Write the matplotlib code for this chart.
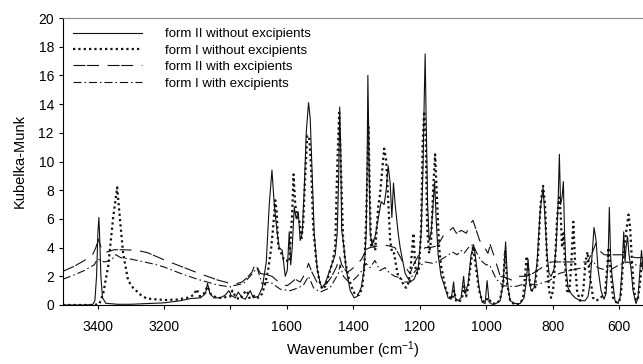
import numpy as np
import matplotlib
matplotlib.use("Agg")
import matplotlib.pyplot as plt

plt.rcParams['font.family'] = ['Liberation Sans', 'DejaVu Sans']
plt.rcParams['mathtext.fontset'] = 'custom'
plt.rcParams['mathtext.rm'] = 'Liberation Sans'
plt.rcParams['mathtext.it'] = 'Liberation Sans'
plt.rcParams['mathtext.bf'] = 'Liberation Sans'

# ---------------- data (wavenumber cm-1, Kubelka-Munk) ----------------
formII_wn = [3504, 3450, 3415, 3408, 3403, 3399, 3396, 3394, 3390, 3385, 3375, 3340, 3300, 3250,
             3200, 3150, 3120, 3090, 3075, 3069, 3062, 3050, 3030, 3015, 3005, 3000,
             1770.6, 1755.5, 1746.5, 1734.5, 1725.4, 1710.4, 1701.4, 1686.3, 1674.3, 1662.2,
             1653.2, 1645.1, 1638.2, 1629.2, 1623.2, 1614.1, 1605.1, 1599.1, 1593.1, 1588.6,
             1584.1, 1578.0, 1572.0, 1566.0, 1560.0, 1554.0, 1548.0, 1541.9, 1535.0, 1529.9,
             1523.9, 1517.9, 1508.9, 1499.8, 1493.8, 1484.8, 1469.8, 1454.7, 1448.7, 1444.2,
             1441.2, 1438.2, 1435.2, 1430.7, 1421.6, 1409.6, 1397.6, 1388.5, 1376.5, 1367.5,
             1361.5, 1358.5, 1356.4, 1354.0, 1349.5, 1343.5, 1334.4, 1325.4, 1316.4, 1307.4,
             1301.3, 1295.3, 1289.3, 1284.2, 1279.3, 1274.2, 1265.2, 1259.2, 1244.2, 1229.1,
             1217.1, 1205.1, 1196.0, 1190.0, 1187.0, 1184.0, 1181.0, 1176.5, 1172.0, 1166.0,
             1160.0, 1155.4, 1150.9, 1144.9, 1135.9, 1123.9, 1114.9, 1105.8, 1098.3, 1093.8,
             1084.8, 1075.8, 1068.2, 1063.7, 1054.7, 1045.7, 1038.1, 1030.6, 1021.6, 1012.6,
             1003.6, 997.5, 991.5, 982.5, 970.4, 958.4, 949.4, 941.8, 935.8, 928.3,
             913.3, 898.2, 886.2, 880.2, 874.2, 869.7, 865.2, 856.1, 847.1, 838.1,
             829.1, 823.1, 817.1, 811.1, 805.0, 796.0, 790.0, 784.0, 780.0, 776.4,
             771.9, 768.0, 764.4, 759.9, 753.9, 744.9, 732.8, 717.8, 702.7, 693.7,
             687.7, 681.7, 675.7, 669.6, 663.6, 654.6, 645.6, 639.6, 633.6, 629.6,
             626.0, 621.5, 612.5, 603.4, 597.4, 591.4, 586.3, 582.4, 579.4, 574.9,
             570.4, 564.3, 558.3, 549.3, 543.3, 537.3, 532.8, 528.3]
formII_km = [0.0, 0.0, 0.02, 0.3, 2.0, 5.0, 6.1, 5.0, 2.0, 0.5, 0.12, 0.05, 0.05, 0.1,
             0.15, 0.3, 0.45, 0.5, 0.8, 1.5, 0.8, 0.5, 0.5, 0.7, 1.0, 0.8,
             0.7, 0.5, 0.9, 0.5, 0.4, 1.0, 0.5, 0.6, 1.2, 3.0,
             7.0, 9.4, 7.0, 5.0, 4.0, 3.8, 2.0, 2.4, 5.1, 2.8,
             4.0, 6.8, 6.0, 6.5, 4.5, 5.0, 8.0, 12.0, 14.1, 13.0,
             9.0, 5.0, 2.5, 1.5, 1.2, 1.5, 2.5, 3.5, 5.0, 9.0,
             13.8, 11.0, 5.2, 4.5, 2.5, 1.0, 0.5, 0.6, 1.2, 2.5,
             5.0, 10.0, 16.0, 12.0, 5.0, 4.2, 4.8, 6.0, 7.2, 7.0,
             8.0, 9.7, 8.5, 6.1, 8.5, 7.0, 5.0, 4.0, 2.2, 1.6,
             1.8, 2.5, 5.0, 10.0, 14.0, 17.5, 13.0, 7.0, 4.5, 5.0,
             7.0, 8.6, 6.0, 3.5, 2.0, 1.2, 0.5, 0.4, 1.6, 0.5,
             0.3, 0.5, 2.0, 0.8, 1.5, 3.5, 4.2, 3.0, 1.2, 0.2,
             0.1, 1.7, 0.2, 0.05, 0.1, 0.3, 1.5, 4.4, 1.5, 0.3,
             0.1, 0.1, 0.5, 1.5, 3.2, 1.5, 1.0, 1.2, 3.0, 6.5,
             8.2, 6.0, 3.5, 2.2, 2.0, 2.5, 4.0, 7.0, 10.5, 7.0,
             7.5, 8.6, 5.0, 2.5, 1.2, 0.8, 0.5, 0.3, 0.3, 0.6,
             1.5, 3.5, 5.4, 4.5, 2.5, 1.0, 0.4, 0.8, 3.0, 6.8,
             3.5, 2.0, 0.3, 0.1, 0.5, 2.5, 5.1, 3.0, 4.0, 4.8,
             3.5, 2.5, 1.0, 0.1, 0.5, 2.5, 3.8, 2.5]

formI_wn = [3504, 3420, 3395, 3383, 3368, 3353, 3341, 3333, 3323, 3308, 3293, 3270, 3253,
            3220, 3192, 3160, 3130, 3110, 3102, 3092, 3080, 3069, 3058, 3040, 3020, 3010, 3000,
            1764.5, 1752.5, 1740.5, 1731.4, 1720.3, 1713.4, 1704.4, 1695.4, 1686.3, 1674.3,
            1665.3, 1656.2, 1647.2, 1641.2, 1635.2, 1630.7, 1626.2, 1617.1, 1608.1, 1602.1,
            1593.1, 1584.1, 1580.1, 1575.0, 1569.0, 1563.0, 1557.0, 1551.0, 1545.0, 1538.9,
            1532.9, 1526.9, 1520.9, 1511.9, 1502.8, 1493.8, 1484.8, 1472.8, 1463.7, 1454.7,
            1448.7, 1442.7, 1436.7, 1430.7, 1424.7, 1415.6, 1406.6, 1394.6, 1382.5, 1373.5,
            1367.5, 1361.5, 1354.5, 1349.5, 1346.5, 1340.5, 1334.4, 1325.4, 1319.4, 1307.4,
            1301.3, 1295.3, 1289.3, 1283.3, 1277.2, 1271.2, 1265.2, 1256.2, 1247.2, 1241.1,
            1235.1, 1229.1, 1219.2, 1214.1, 1208.1, 1202.1, 1196.0, 1191.5, 1187.0, 1182.5,
            1178.0, 1172.0, 1166.0, 1160.0, 1154.0, 1147.9, 1141.9, 1135.9, 1126.9, 1120.9,
            1111.9, 1102.8, 1096.8, 1090.8, 1081.8, 1072.8, 1066.7, 1060.7, 1054.7, 1048.7,
            1039.7, 1030.6, 1021.6, 1012.6, 1003.6, 994.5, 982.5, 967.5, 958.4, 949.4,
            943.4, 937.3, 928.3, 913.3, 898.2, 889.2, 883.2, 878.7, 874.2, 868.2,
            862.2, 853.1, 844.1, 836.6, 829.1, 823.1, 817.1, 811.1, 805.0, 799.0,
            793.0, 787.0, 781.0, 776.4, 771.9, 767.4, 762.9, 756.9, 750.9, 744.9,
            738.0, 732.8, 726.8, 717.8, 708.8, 701.3, 695.3, 687.7, 678.7, 669.6,
            660.6, 651.6, 642.6, 636.6, 632.1, 626.0, 618.5, 609.5, 600.4, 594.4,
            588.4, 582.4, 576.4, 571.9, 567.4, 561.4, 555.4, 549.3, 543.3, 537.3,
            531.3, 528.3]
formI_km = [0.0, 0.0, 0.05, 0.8, 2.7, 6.1, 8.2, 6.1, 3.6, 1.7, 1.2, 0.7, 0.46,
            0.38, 0.35, 0.38, 0.5, 0.7, 1.1, 0.6, 0.8, 1.3, 0.7, 0.5, 0.5, 0.6, 0.6,
            1.0, 0.5, 0.4, 0.8, 1.0, 0.5, 0.5, 0.7, 0.5, 0.8,
            1.5, 2.5, 4.0, 5.5, 7.3, 6.5, 4.05, 3.6, 3.1, 3.1,
            3.0, 6.4, 9.1, 7.0, 6.1, 6.0, 4.5, 5.7, 9.0, 11.8,
            11.7, 9.4, 5.4, 3.1, 1.7, 1.1, 1.3, 2.2, 2.9, 4.0,
            9.6, 13.4, 9.0, 4.5, 3.1, 2.0, 1.3, 0.7, 0.7, 1.2,
            2.5, 6.0, 12.4, 6.6, 4.0, 4.5, 3.8, 6.8, 7.8, 10.9,
            10.1, 7.3, 4.5, 3.6, 3.6, 2.7, 2.0, 1.8, 1.3, 1.2,
            1.5, 2.2, 5.0, 2.7, 2.2, 2.6, 5.4, 11.2, 13.5, 12.0,
            5.4, 3.6, 4.5, 8.0, 10.5, 7.3, 4.0, 2.7, 1.7, 1.0,
            0.6, 0.4, 1.0, 0.3, 0.2, 0.5, 1.3, 0.6, 1.2, 2.5,
            4.1, 2.5, 1.0, 0.3, 0.2, 0.5, 0.1, 0.1, 0.4, 1.5,
            3.8, 1.5, 0.3, 0.0, 0.1, 0.5, 2.0, 3.4, 2.6, 1.5,
            1.0, 1.2, 3.5, 7.0, 8.3, 7.0, 3.0, 1.0, 0.5, 1.0,
            3.0, 6.0, 7.5, 6.5, 4.0, 5.0, 3.0, 1.0, 0.8, 2.5,
            5.8, 3.0, 1.0, 0.3, 0.8, 3.0, 3.7, 2.0, 0.5, 0.3,
            0.4, 0.6, 0.8, 2.5, 4.0, 2.5, 0.5, 0.2, 0.2, 0.8,
            3.0, 4.5, 5.5, 6.3, 5.5, 3.0, 1.0, 0.3, 0.5, 1.5,
            3.0, 2.5]

formII_exc_wn = [3504, 3470, 3440, 3415, 3405, 3398, 3392, 3385, 3370, 3350, 3320, 3280, 3250,
                 3200, 3150, 3100, 3070, 3040, 3000,
                 1770, 1750, 1735, 1720, 1705, 1695, 1680, 1660, 1645, 1630, 1610, 1600, 1590,
                 1575, 1560, 1545, 1535, 1525, 1510, 1495, 1480, 1465, 1450, 1442, 1435, 1420,
                 1410, 1390, 1375, 1360, 1350, 1330, 1310, 1290, 1275, 1260, 1245, 1230, 1215,
                 1200, 1184, 1170, 1150, 1140, 1125, 1110, 1100, 1090, 1075, 1060, 1050, 1040,
                 1030, 1020, 1005, 995, 988, 975, 958, 940, 920, 900, 880, 860, 840, 805, 780,
                 760, 740, 718, 695, 680, 670, 660, 645, 625, 600, 590, 570, 550, 528]
formII_exc_km = [2.35, 2.7, 3.1, 3.5, 4.0, 4.6, 4.2, 3.7, 3.7, 3.85, 3.85, 3.8, 3.65,
                 3.15, 2.7, 2.25, 2.0, 1.75, 1.5,
                 1.5, 1.5, 1.6, 1.9, 2.3, 2.9, 2.2, 2.1, 2.0, 1.7, 1.4, 1.35, 1.5,
                 1.8, 1.6, 2.2, 2.9, 2.3, 1.6, 1.3, 1.5, 2.0, 2.7, 3.4, 2.8, 2.3,
                 2.4, 2.8, 3.2, 3.9, 4.0, 4.1, 4.2, 4.1, 4.0, 3.4, 2.7, 2.2, 3.0,
                 3.6, 4.0, 4.0, 4.1, 4.4, 5.0, 5.2, 5.4, 5.0, 5.2, 5.0, 5.6, 5.9,
                 5.2, 4.5, 4.0, 3.6, 4.2, 3.3, 2.0, 1.9, 1.7, 2.0, 2.0, 2.2, 2.5, 3.0, 3.0,
                 3.0, 3.0, 3.0, 3.0, 3.7, 4.3, 3.8, 3.5, 3.5, 3.5, 3.5, 3.4, 3.3, 3.3]

formI_exc_wn = [3504, 3470, 3440, 3410, 3400, 3380, 3360, 3345, 3330, 3300, 3260, 3230, 3200,
                3150, 3100, 3070, 3040, 3000,
                1770, 1750, 1730, 1715, 1700, 1690, 1675, 1650, 1620, 1590, 1565, 1550, 1535,
                1520, 1500, 1470, 1445, 1440, 1430, 1410, 1380, 1362, 1350, 1335, 1320, 1305,
                1290, 1275, 1260, 1245, 1230, 1220, 1205, 1184, 1160, 1140, 1120, 1102, 1088,
                1076, 1067, 1052, 1040, 1028, 1016, 1001, 990, 970, 950, 930, 910, 880, 850,
                810, 780, 750, 730, 710, 695, 680, 665, 650, 630, 600, 575, 550, 528]
formI_exc_km = [1.8, 2.1, 2.4, 2.8, 3.2, 3.0, 3.1, 3.5, 3.3, 3.2, 3.0, 2.85, 2.65,
                2.2, 1.8, 1.6, 1.4, 1.25,
                1.3, 1.4, 1.5, 1.9, 2.3, 2.6, 1.5, 1.6, 1.1, 1.0, 1.2, 1.4, 2.0,
                1.2, 0.9, 1.2, 2.2, 2.8, 2.0, 1.5, 2.2, 2.9, 2.6, 3.1, 2.4, 2.6,
                2.2, 2.0, 1.9, 1.6, 1.6, 2.2, 2.6, 3.0, 2.9, 3.1, 3.4, 3.7, 3.5,
                3.8, 3.6, 4.05, 4.2, 3.6, 3.1, 2.8, 2.8, 1.8, 1.35, 1.3, 1.3, 1.5, 1.4,
                1.7, 2.2, 2.4, 2.5, 2.6, 2.6, 3.1, 2.6, 2.5, 2.4, 2.8, 3.0, 2.8, 2.7]

labels = ['form II without excipients', 'form I without excipients',
          'form II with excipients', 'form I with excipients']
x_ticks = [3400, 3200, 3000, 1600, 1400, 1200, 1000, 800, 600]
x_tick_labels = ['3400', '3200', '', '1600', '1400', '1200', '1000', '800', '600']
y_ticks = list(range(0, 21, 2))

# ---------------- broken wavenumber axis (3000 joins 1770) ----------------
BREAK_HI, BREAK_LO = 3000.0, 1770.0
SHIFT = BREAK_HI - BREAK_LO


def fwd(w):
    w = np.asarray(w, dtype=float)
    return np.where(w >= BREAK_HI, w, np.where(w <= BREAK_LO, w + SHIFT, BREAK_HI))


def inv(p):
    p = np.asarray(p, dtype=float)
    return np.where(p >= BREAK_HI, p, p - SHIFT)


fig = plt.figure(figsize=(6.43, 3.64), dpi=100)
ax = fig.add_axes([63 / 643, 1 - 305 / 364, 1 - 63 / 643, (305 - 18) / 364])
ax.set_xscale('function', functions=(fwd, inv))

lc = '#111111'
ax.plot(formII_wn, formII_km, color=lc, lw=0.8, ls='-', label=labels[0])
ax.plot(formI_wn, formI_km, color=lc, lw=1.6, ls=(0, (1, 1.4)), label=labels[1])
ax.plot(formII_exc_wn, formII_exc_km, color=lc, lw=0.8, ls=(0, (10.8, 1.4, 10.8, 7.7)), label=labels[2])
ax.plot(formI_exc_wn, formI_exc_km, color=lc, lw=0.8, ls=(0, (7.2, 2.7, 1.35, 2.7)), label=labels[3])

ax.set_xlim(3504, 528.3)
ax.set_ylim(0, 20)
ax.set_xticks(x_ticks)
ax.set_xticklabels(x_tick_labels)
ax.xaxis.set_minor_locator(matplotlib.ticker.NullLocator())
ax.set_yticks(y_ticks)
ax.tick_params(axis='both', direction='out', length=3, width=0.8, labelsize=10, colors='black')
ax.tick_params(axis='x', pad=8)

ax.spines['right'].set_visible(False)
ax.spines['top'].set_color('#888888')
ax.spines['top'].set_linewidth(0.8)
ax.spines['left'].set_linewidth(0.8)
ax.spines['bottom'].set_linewidth(0.8)

ax.set_ylabel('Kubelka-Munk', fontsize=10.5, labelpad=8)
ax.set_xlabel(r'Wavenumber (cm$^{\mathrm{-1}}$)', fontsize=10.5, labelpad=4)

leg = ax.legend(loc='upper left', bbox_to_anchor=(0.0, 1.0), frameon=False, fontsize=9.5,
                handlelength=5.2, handletextpad=1.8, labelspacing=0.32, borderaxespad=0.35)

fig.savefig('out.png', dpi=100)
